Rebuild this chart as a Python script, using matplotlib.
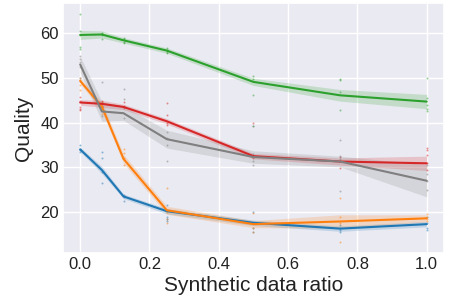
import matplotlib
matplotlib.use("Agg")
import matplotlib.pyplot as plt
import seaborn as sns
import numpy as np

sns.set_theme(style="darkgrid")
plt.rcParams['font.family'] = ['Liberation Sans', 'DejaVu Sans']

ratios = [0.0, 0.0625, 0.125, 0.25, 0.5, 0.75, 1.0]

blue_mean = [34.0, 29.4, 23.5, 20.2, 17.6, 16.3, 17.3]
orange_mean = [49.3, 43.6, 31.9, 20.4, 17.3, 17.9, 18.6]
green_mean = [59.6, 59.7, 58.4, 56.1, 49.1, 46.1, 44.7]
red_mean = [44.5, 44.2, 43.5, 40.3, 32.5, 31.3, 30.9]
gray_mean = [53.0, 42.5, 42.1, 36.3, 32.3, 31.3, 27.0]

blue_err = [0.5, 0.8, 0.5, 0.6, 0.6, 0.6, 0.6]
orange_err = [0.6, 1.0, 1.0, 0.9, 0.8, 1.5, 0.8]
green_err = [1.0, 0.8, 0.6, 0.6, 0.8, 1.3, 1.6]
red_err = [0.6, 0.8, 0.6, 0.6, 0.6, 0.8, 1.6]
gray_err = [1.8, 2.2, 1.6, 2.0, 1.4, 1.2, 3.6]

blue_pts = [[35.0, 34.2, 33.8, 33.5], [33.5, 32.0, 29.0, 26.5], [23.8, 23.3, 22.5],
            [21.5, 20.5, 19.0, 18.5, 18.0], [20.0, 17.5, 16.5, 15.6], [17.2, 16.5, 16.0, 15.5],
            [18.8, 17.5, 16.5, 16.0]]
orange_pts = [[50.0, 49.5, 48.5, 47.2], [44.5, 43.5, 42.0], [34.0, 33.3, 32.0, 30.5],
              [25.3, 20.0, 18.5, 17.6], [19.8, 17.5, 16.5, 15.5], [23.1, 19.0, 17.5, 13.4],
              [19.5, 19.0, 18.5, 18.0]]
green_pts = [[64.2, 60.5, 59.5, 57.0, 56.5], [60.0, 59.8, 59.6, 58.8], [59.0, 58.7, 58.0, 57.8],
             [56.6, 56.3, 55.8, 55.5], [50.4, 49.8, 46.2, 39.2], [49.8, 49.5, 46.8, 42.8],
             [50.0, 45.5, 44.0, 43.0, 42.5]]
red_pts = [[45.8, 44.8, 43.5, 43.0, 42.9], [44.8, 44.3, 43.8], [44.5, 43.8, 43.2],
           [44.4, 41.8, 39.8, 39.5], [39.8, 32.5, 32.0], [32.2, 31.5, 29.8],
           [34.3, 33.8, 32.8, 31.0, 29.5]]
gray_pts = [[55.0, 54.3, 53.5, 52.5, 50.0], [49.0, 43.5, 42.5, 41.5], [47.5, 45.2, 43.5, 41.0],
            [38.0, 36.5, 35.0, 31.4], [39.2, 33.0, 31.5, 30.5], [36.1, 32.5, 31.8, 24.6],
            [30.5, 28.5, 27.0, 25.0]]

series = [
    (blue_mean, blue_err, blue_pts, "tab:blue"),
    (orange_mean, orange_err, orange_pts, "tab:orange"),
    (green_mean, green_err, green_pts, "tab:green"),
    (red_mean, red_err, red_pts, "tab:red"),
    (gray_mean, gray_err, gray_pts, "tab:gray"),
]

fig = plt.figure(figsize=(4.49, 2.99), dpi=100)
ax = fig.add_axes([0.140, 0.154, 0.849, 0.836])

for mean, err, pts, col in series:
    m = np.array(mean)
    e = np.array(err)
    ax.fill_between(ratios, m - e, m + e, color=col, alpha=0.2, linewidth=0)
    xs = [x for x, p in zip(ratios, pts) for _ in p]
    ys = [v for p in pts for v in p]
    ax.scatter(xs, ys, s=2, color=col, alpha=0.5, linewidths=0)
    ax.plot(ratios, m, color=col, linewidth=1.5)

ax.set_xticks([0.0, 0.2, 0.4, 0.6, 0.8, 1.0])
ax.set_yticks([20, 30, 40, 50, 60])
ax.tick_params(labelsize=12, pad=3, length=0, labelcolor="#222222")
ax.set_xlabel("Synthetic data ratio", fontsize=15, labelpad=3, color="#222222")
ax.set_ylabel("Quality", fontsize=15, labelpad=5, color="#222222")

fig.savefig("out.png", dpi=100)
